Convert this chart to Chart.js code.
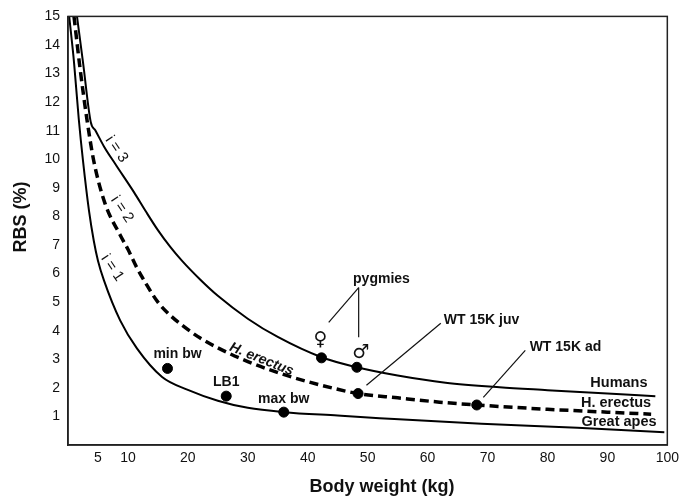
<!DOCTYPE html>
<html>
<head>
<meta charset="utf-8">
<script src="https://cdn.jsdelivr.net/npm/chart.js@4.4.0/dist/chart.umd.min.js"></script>
<style>
  html, body { margin: 0; padding: 0; background: #fff; }
  #chart { display: block; }
</style>
</head>
<body>
<canvas id="chart" width="684" height="498"></canvas>
<script>
// tick labels
const xTicks = [5, 10, 20, 30, 40, 50, 60, 70, 80, 90, 100];
const yTicks = [1, 2, 3, 4, 5, 6, 7, 8, 9, 10, 11, 12, 13, 14, 15];

// curves (body weight kg -> RBS %)
const humansX = [1.5, 2.5, 3.8, 4.6, 6, 8, 11, 13, 15, 17, 19, 22, 25, 30, 35, 42.3, 48.2, 55, 63, 72, 80, 90, 98];
const humansY = [15, 13.4, 11.3, 11.0, 10.45, 9.8, 8.85, 8.17, 7.52, 6.95, 6.45, 5.8, 5.22, 4.42, 3.78, 3.07, 2.72, 2.43, 2.18, 2.02, 1.92, 1.8, 1.71];

const erectusX = [1, 2, 3.2, 4.3, 6.2, 8.7, 10, 11.5, 13, 15, 17, 19.3, 22, 25, 30, 37, 45, 48.4, 55, 62, 68.2, 80, 90, 97.3];
const erectusY = [15, 13.2, 11.34, 9.94, 8.44, 7.35, 6.85, 6.2, 5.65, 5.0, 4.55, 4.15, 3.75, 3.4, 2.92, 2.4, 1.95, 1.8, 1.65, 1.5, 1.4, 1.25, 1.15, 1.08];

const apesX = [0.2, 1, 1.8, 2.5, 3.5, 4.3, 5, 6, 8.7, 11.5, 15.7, 20, 25, 30, 36, 45, 52, 69, 85, 99.5];
const apesY = [15, 13.4, 11.4, 9.95, 8.2, 7.15, 6.45, 5.76, 4.36, 3.38, 2.38, 1.93, 1.55, 1.3, 1.15, 1.03, 0.94, 0.74, 0.6, 0.45];

// specimens
const pointNames = ['min bw', 'LB1', 'max bw', '♀', '♂', 'WT 15K juv', 'WT 15K ad'];
const pointX = [16.6, 26.4, 36, 42.3, 48.2, 48.4, 68.2];
const pointY = [2.68, 1.71, 1.15, 3.05, 2.72, 1.8, 1.4];

const toXY = (xs, ys) => xs.map((x, i) => ({ x: x, y: ys[i] }));

const FONT = '"Liberation Sans", Arial, Helvetica, sans-serif';
Chart.defaults.font.family = FONT;
Chart.defaults.color = '#111';

// axis titles, box frame and all the text labels
const annotations = {
  id: 'annotations',
  afterDraw(chart) {
    const ctx = chart.ctx;
    const xs = chart.scales.x, ys = chart.scales.y;
    const px = v => xs.getPixelForValue(v);
    const py = v => ys.getPixelForValue(v);
    const area = chart.chartArea;

    ctx.save();
    ctx.strokeStyle = '#222';
    ctx.lineWidth = 1.5;
    ctx.strokeRect(area.left, area.top, area.right - area.left, area.bottom - area.top);

    ctx.fillStyle = '#111';
    ctx.textBaseline = 'middle';

    // axis titles
    ctx.font = 'bold 18px ' + FONT;
    ctx.textAlign = 'center';
    ctx.fillText('Body weight (kg)', 382, 487);
    ctx.save();
    ctx.translate(21, 217);
    ctx.rotate(-Math.PI / 2);
    ctx.fillText('RBS (%)', 0, 0);
    ctx.restore();

    // point labels
    ctx.font = 'bold 14px ' + FONT;
    ctx.fillText(pointNames[0], px(pointX[0]) + 10, py(pointY[0]) - 14);
    ctx.fillText(pointNames[1], px(pointX[1]), py(pointY[1]) - 14);
    ctx.fillText(pointNames[2], px(pointX[2]), py(pointY[2]) - 13);
    ctx.fillText('pygmies', px(52.3), py(5.82));
    ctx.fillText(pointNames[5], px(69), py(4.36));
    ctx.fillText(pointNames[6], px(83), py(3.42));

    ctx.font = '19px "DejaVu Sans", sans-serif';
    ctx.fillText(pointNames[3], px(pointX[3]) - 1, py(pointY[3]) - 18);
    ctx.fillText(pointNames[4], px(pointX[4]) + 4, py(pointY[4]) - 14);

    // leader lines
    ctx.strokeStyle = '#111';
    ctx.lineWidth = 1.2;
    const seg = (x1, y1, x2, y2) => {
      ctx.beginPath();
      ctx.moveTo(px(x1), py(y1));
      ctx.lineTo(px(x2), py(y2));
      ctx.stroke();
    };
    seg(48.5, 5.51, 43.5, 4.29);
    seg(48.5, 5.51, 48.5, 3.77);
    seg(62.2, 4.26, 49.8, 2.09);
    seg(76.3, 3.31, 69.3, 1.67);

    // curve names on the right
    ctx.font = 'bold 14.5px ' + FONT;
    ctx.textAlign = 'right';
    ctx.fillText('Humans', px(96.7), py(2.16));
    ctx.fillText('H. erectus', px(97.3), py(1.46));
    ctx.fillText('Great apes', px(98.2), py(0.80));

    // rotated labels along curves
    const rotated = (text, x, y, deg, font) => {
      ctx.save();
      ctx.font = font;
      ctx.textAlign = 'center';
      ctx.translate(px(x), py(y));
      ctx.rotate(deg * Math.PI / 180);
      ctx.fillText(text, 0, 0);
      ctx.restore();
    };
    rotated('H. erectus', 32.3, 3.0, 22, 'italic bold 14px ' + FONT);
    rotated('i = 3', 8.1, 10.35, 56, '15px ' + FONT);
    rotated('i = 2', 9.0, 8.25, 56, '15px ' + FONT);
    rotated('i = 1', 7.4, 6.2, 56, '15px ' + FONT);

    ctx.restore();
  }
};

const curve = (label, xs, ys, dash, width) => ({
  type: 'line',
  label: label,
  data: toXY(xs, ys),
  borderColor: '#000',
  borderWidth: width,
  borderDash: dash,
  pointRadius: 0,
  fill: false,
  cubicInterpolationMode: 'monotone'
});

new Chart(document.getElementById('chart'), {
  type: 'scatter',
  data: {
    datasets: [
      curve('Humans', humansX, humansY, [], 2),
      curve('H. erectus', erectusX, erectusY, [9, 5], 3.5),
      curve('Great apes', apesX, apesY, [], 2),
      {
        type: 'scatter',
        label: 'specimens',
        data: toXY(pointX, pointY),
        backgroundColor: '#000',
        borderColor: '#000',
        pointRadius: 5,
        showLine: false
      }
    ]
  },
  options: {
    responsive: false,
    animation: false,
    devicePixelRatio: 1,
    layout: { padding: { top: 15, right: 14, left: 0, bottom: 0 } },
    plugins: { legend: { display: false }, tooltip: { enabled: false } },
    scales: {
      x: {
        type: 'linear',
        min: 0,
        max: 100,
        grid: { display: false, drawTicks: false },
        border: { display: true, color: '#222', width: 1.5 },
        ticks: { font: { size: 14 }, padding: 5, color: '#111', autoSkip: false, maxRotation: 0 },
        afterBuildTicks: s => { s.ticks = xTicks.map(v => ({ value: v })); },
        afterFit: s => { s.height = 53; }
      },
      y: {
        type: 'linear',
        min: 0,
        max: 15,
        grid: { display: false, drawTicks: false },
        border: { display: true, color: '#222', width: 1.5 },
        ticks: { font: { size: 14 }, padding: 8, color: '#111', autoSkip: false },
        afterBuildTicks: s => { s.ticks = yTicks.map(v => ({ value: v })); },
        afterFit: s => { s.width = 68; }
      }
    }
  },
  plugins: [annotations]
});
</script>
</body>
</html>
